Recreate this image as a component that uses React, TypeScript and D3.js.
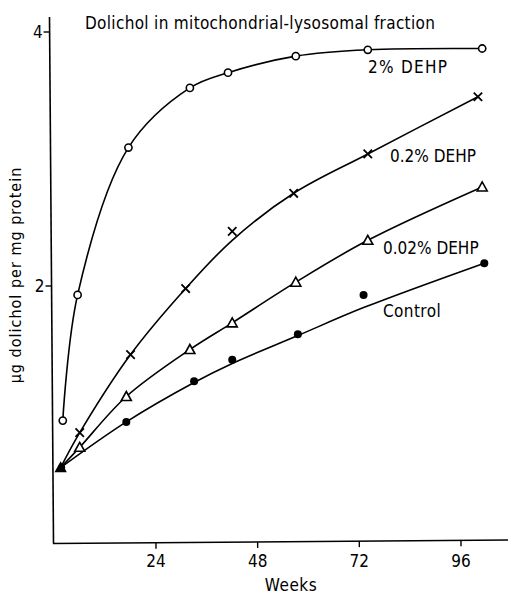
import React, { useRef, useEffect } from 'react';
import * as d3 from 'd3';

// weeks / values (markers), plus the drawn line where it misses a marker
const weeks2 = [2, 5.5, 17.5, 32, 41, 57, 74, 101];
const dehp2 = [0.94, 1.93, 3.09, 3.56, 3.68, 3.81, 3.86, 3.87];

const weeks02 = [1.5, 6, 18, 31, 42, 56.5, 74, 100];
const dehp02 = [0.57, 0.845, 1.46, 1.98, 2.43, 2.73, 3.04, 3.49];
const dehp02Line = [0.57, 0.845, 1.46, 1.98, 2.36, 2.73, 3.04, 3.49];

const weeks002 = [1.5, 6, 17, 32, 42, 57, 74, 101];
const dehp002 = [0.57, 0.73, 1.13, 1.5, 1.71, 2.03, 2.36, 2.78];

const weeksControl = [1.5, 17, 33, 42, 57.5, 73, 101.5];
const control = [0.57, 0.93, 1.25, 1.42, 1.62, 1.93, 2.18];
const controlLine = [0.57, 0.93, 1.24, 1.39, 1.61, 1.83, 2.18];

const xTicks = [24, 48, 72, 96];
const yTicks = [2, 4];

const FONT = "'DejaVu Sans Condensed', 'DejaVu Sans', sans-serif";

const zip = (xs: number[], ys: number[]) => xs.map((w, i) => [w, ys[i]] as [number, number]);

const App = () => {
    const svgRef = useRef<SVGSVGElement>(null);
    const svg_width = 508;
    const svg_height = 596;

    useEffect(() => {
        const svg = d3.select(svgRef.current);
        svg.selectAll('*').remove();

        const x = d3.scaleLinear().domain([0, 96]).range([54.3, 461]);
        const y = d3.scaleLinear().domain([0, 4]).range([540, 32]);

        // the scanned axes lean a little
        const axisXAt = (py: number) => 49.5 + (py - 17) * (4 / 526);
        const axisYAt = (px: number) => 543.5 - (px - 53) * (3.5 / 455);

        const g = svg.append('g').attr('fill', 'none').attr('stroke', '#000');

        g.append('line').attr('x1', axisXAt(17)).attr('x2', axisXAt(543.5)).attr('y1', 17).attr('y2', 543.5).attr('stroke-width', 1.6);
        g.append('line').attr('x1', 53).attr('x2', 508).attr('y1', axisYAt(53)).attr('y2', axisYAt(508)).attr('stroke-width', 1.6);

        xTicks.forEach(t => {
            const ay = axisYAt(x(t));
            g.append('line').attr('x1', x(t)).attr('x2', x(t)).attr('y1', ay).attr('y2', ay + 6).attr('stroke-width', 1.4);
            svg.append('text').attr('x', x(t)).attr('y', 567).attr('text-anchor', 'middle')
                .attr('font-family', FONT).attr('font-size', 17).text(t);
        });
        yTicks.forEach(t => {
            const ax = axisXAt(y(t));
            g.append('line').attr('x1', ax - 6).attr('x2', ax).attr('y1', y(t)).attr('y2', y(t)).attr('stroke-width', 1.4);
            svg.append('text').attr('x', ax - 7).attr('y', y(t) + 6).attr('text-anchor', 'end')
                .attr('font-family', FONT).attr('font-size', 17).text(t);
        });

        const line = d3.line<[number, number]>()
            .x(d => x(d[0]))
            .y(d => y(d[1]))
            .curve(d3.curveCatmullRom.alpha(0.5));

        const curves = [zip(weeks2, dehp2), zip(weeks02, dehp02Line), zip(weeks002, dehp002), zip(weeksControl, controlLine)];
        curves.forEach(c => {
            g.append('path').attr('d', line(c)).attr('stroke-width', 1.6);
        });

        // markers
        zip(weeks2, dehp2).forEach(d => {
            g.append('circle').attr('cx', x(d[0])).attr('cy', y(d[1])).attr('r', 3.6)
                .attr('fill', '#fff').attr('stroke-width', 1.6);
        });
        zip(weeks02, dehp02).slice(1).forEach(d => {
            const s = 4.2, cx = x(d[0]), cy = y(d[1]);
            g.append('path')
                .attr('d', `M${cx - s},${cy - s}L${cx + s},${cy + s}M${cx - s},${cy + s}L${cx + s},${cy - s}`)
                .attr('stroke-width', 1.8);
        });
        zip(weeks002, dehp002).slice(1).forEach(d => {
            const cx = x(d[0]), cy = y(d[1]);
            g.append('path').attr('d', `M${cx - 5},${cy + 4}L${cx + 5},${cy + 4}L${cx},${cy - 5}Z`)
                .attr('fill', '#fff').attr('stroke-width', 1.6);
        });
        zip(weeksControl, control).slice(1).forEach(d => {
            g.append('circle').attr('cx', x(d[0])).attr('cy', y(d[1])).attr('r', 4)
                .attr('fill', '#000').attr('stroke', 'none');
        });
        // shared starting point: all symbols overprinted
        const sx = x(weeks002[0]), sy = y(dehp002[0]);
        g.append('path').attr('d', `M${sx - 5},${sy + 4}L${sx + 5},${sy + 4}L${sx},${sy - 5}Z`)
            .attr('fill', '#000').attr('stroke-width', 1.4);
        g.append('circle').attr('cx', sx + 1).attr('cy', sy).attr('r', 3.5).attr('fill', '#000').attr('stroke', 'none');

        // series labels
        const labels = [
            { text: '2% DEHP', x: 368, y: 73, ls: 1.3 },
            { text: '0.2% DEHP', x: 390, y: 162, ls: 0 },
            { text: '0.02% DEHP', x: 383, y: 254, ls: 0 },
            { text: 'Control', x: 383, y: 317, ls: 0.4 },
        ];
        labels.forEach(l => {
            svg.append('text').attr('x', l.x).attr('y', l.y).attr('font-family', FONT)
                .attr('font-size', 17).attr('letter-spacing', l.ls).text(l.text);
        });

        svg.append('text').attr('x', 85).attr('y', 29).attr('font-family', FONT)
            .attr('font-size', 17).attr('letter-spacing', 0.32).text('Dolichol in mitochondrial-lysosomal fraction');
        svg.append('text').attr('x', 291).attr('y', 591).attr('text-anchor', 'middle').attr('font-family', FONT)
            .attr('font-size', 17).attr('letter-spacing', 0.5).text('Weeks');
        svg.append('text').attr('transform', 'translate(21,275) rotate(-90)').attr('text-anchor', 'middle')
            .attr('font-family', FONT).attr('font-size', 16).attr('letter-spacing', 1).text('μg dolichol per mg protein');
    }, []);

    return (
        <svg ref={svgRef} width={svg_width} height={svg_height}
            style={{ position: 'absolute', left: 0, top: 0, background: '#fff' }} />
    );
};

export default App;
